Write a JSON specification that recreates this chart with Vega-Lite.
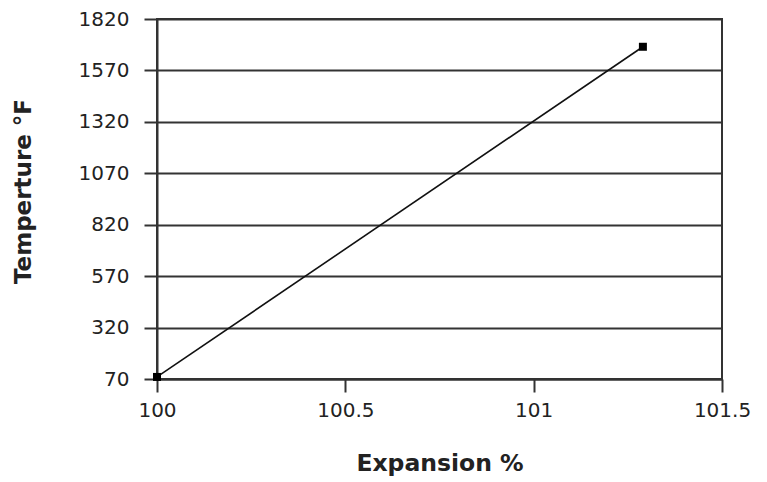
{
  "$schema": "https://vega.github.io/schema/vega-lite/v6.json",
  "autosize": "none",
  "width": 565,
  "height": 360,
  "padding": {"left": 157, "top": 19, "right": 45, "bottom": 103},
  "background": "white",
  "config": {
    "view": {"stroke": "#333", "strokeWidth": 2},
    "font": "DejaVu Sans"
  },
  "data": {"values": [
    {"expansion": 100.0, "temp": 80},
    {"expansion": 101.29, "temp": 1685}
  ]},
  "layer": [
    {
      "mark": {"type": "line", "color": "#111", "strokeWidth": 1.6},
      "encoding": {
        "x": {"field": "expansion", "type": "quantitative",
          "scale": {"domain": [100, 101.5], "zero": false, "nice": false},
          "axis": {"title": "Expansion %", "values": [100, 100.5, 101, 101.5], "format": "~g",
            "labelFlush": false, "labelAlign": "center",
            "grid": false, "domainColor": "#333", "domainWidth": 2, "tickColor": "#333", "tickWidth": 2, "tickSize": 13,
            "labelFont": "DejaVu Sans", "labelFontSize": 20, "labelColor": "#222", "labelPadding": 8,
            "titleFont": "DejaVu Sans", "titleFontSize": 23.5, "titleFontWeight": "bold", "titleColor": "#222", "titlePadding": 31}},
        "y": {"field": "temp", "type": "quantitative",
          "scale": {"domain": [70, 1820], "zero": false, "nice": false},
          "axis": {"title": "Temperture °F", "values": [70, 320, 570, 820, 1070, 1320, 1570, 1820], "format": "d",
            "labelFlush": false,
            "grid": true, "gridColor": "#333", "gridWidth": 2,
            "domainColor": "#333", "domainWidth": 2, "tickColor": "#333", "tickWidth": 2, "tickSize": 13,
            "labelFont": "DejaVu Sans", "labelFontSize": 20, "labelColor": "#222", "labelPadding": 15,
            "titleFont": "DejaVu Sans", "titleFontSize": 23, "titleFontWeight": "bold", "titleColor": "#222", "titlePadding": 43, "titleY": 172}}
      }
    },
    {
      "mark": {"type": "square", "color": "#000", "filled": true, "opacity": 1, "size": 64},
      "encoding": {
        "x": {"field": "expansion", "type": "quantitative"},
        "y": {"field": "temp", "type": "quantitative"}
      }
    }
  ]
}
